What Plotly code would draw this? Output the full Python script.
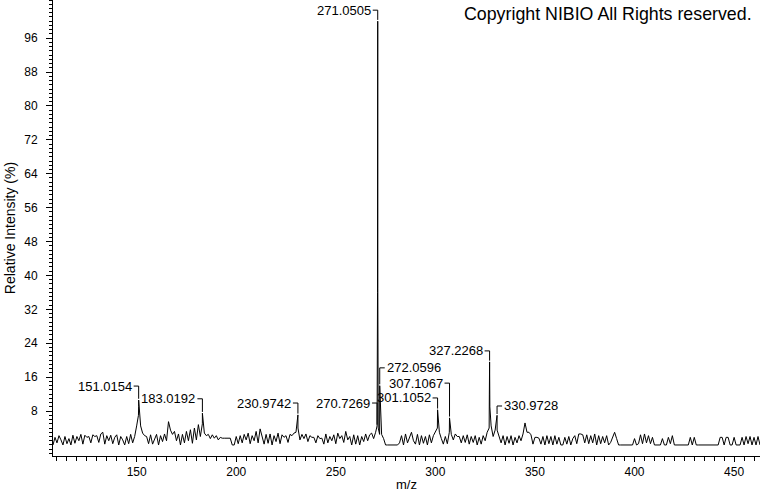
import plotly.graph_objects as go

# ---------------- data ----------------
# baseline noise, one value per integer m/z from 108 to 463 (relative %)
NOISE_START = 108
NOISE = [
    0, 1.8, 0.5, 2.2, 1.2, 0, 2.0, 0.3, 1.5, 0,            # 108-117
    2.3, 0.4, 2.0, 1.0, 2.5, 0.2, 2.3, 1.8, 2.0, 0.5,      # 118-127
    2.4, 2.0, 2.2, 0.6, 2.6, 3.0, 0.2, 2.2, 1.0, 2.3,      # 128-137
    0.3, 1.8, 2.4, 0, 2.0, 1.2, 0, 2.0, 0.3, 2.5,          # 138-147
    0.5, 2.0, 4.5, 9.0, 4.5, 2.8, 2.2, 2.0, 0.3, 2.4,      # 148-157
    0.2, 1.5, 2.5, 0, 2.2, 0.8, 2.6, 1.0, 5.5, 3.5,        # 158-167
    2.5, 3.2, 1.0, 2.6, 0, 2.5, 0.5, 3.2, 1.0, 3.6,        # 168-177
    0.4, 4.0, 1.2, 4.8, 2.0, 5.0, 2.8, 2.2, 2.5, 1.5,      # 178-187
    2.4, 1.6, 2.2, 1.2, 1.8, 1.6, 1.6, 1.6, 1.6, 1.6,      # 188-197
    0, 0, 2.0, 0.3, 2.2, 0.5, 2.5, 1.2, 2.8, 0.3,          # 198-207
    2.2, 1.0, 3.2, 0.5, 3.8, 2.0, 0.2, 2.5, 0.4, 2.6,      # 208-217
    0, 2.2, 0.8, 2.8, 0.3, 2.4, 1.8, 2.2, 0.6, 2.5,        # 218-227
    2.2, 2.8, 3.0, 4.0, 1.2, 2.5, 1.5, 2.6, 0.8, 2.2,      # 228-237
    1.8, 1.8, 0.5, 2.2, 1.5, 1.6, 0.2, 2.6, 0.5, 2.0,      # 238-247
    1.0, 2.4, 0.3, 2.8, 1.5, 2.2, 0.6, 3.2, 1.2, 2.0,      # 248-257
    0, 2.4, 0.2, 2.2, 0, 2.0, 0.8, 2.6, 1.0, 2.4,          # 258-267
    2.8, 1.5, 3.0, 3.0, 2.5, 2.5, 1.5, 0, 0, 0,            # 268-277
    0, 0, 0, 0, 0.5, 2.2, 0, 2.6, 0.5, 2.0,                # 278-287
    3.0, 1.0, 0.2, 2.5, 0, 2.2, 0.4, 2.0, 0, 2.4,          # 288-297
    0.5, 2.2, 3.0, 4.0, 3.0, 1.5, 0.2, 2.0, 0.3, 3.0,      # 298-307
    2.5, 1.2, 2.6, 2.0, 2.0, 0.5, 2.2, 0.6, 2.4, 0.2,      # 308-317
    2.0, 0.6, 2.2, 0, 1.8, 0.2, 2.2, 1.0, 3.0, 4.0,        # 318-327
    4.5, 2.0, 3.5, 3.5, 2.0, 0.5, 2.2, 0, 2.0, 0.4,        # 328-337
    2.2, 0, 1.8, 0.5, 2.2, 1.0, 2.6, 5.2, 3.0, 3.0,        # 338-347
    2.4, 0.2, 1.8, 1.8, 1.6, 0.2, 2.0, 0, 2.2, 0.3,        # 348-357
    2.0, 0, 2.2, 0.2, 1.8, 0, 0, 1.8, 0.2, 2.0,            # 358-367
    0, 1.5, 2.2, 0.3, 2.6, 2.6, 2.4, 0.5, 2.4, 0.3,        # 368-377
    2.2, 0.5, 2.6, 0, 2.2, 0.3, 2.0, 0.5, 2.2, 0,          # 378-387
    0.6, 2.0, 3.0, 1.5, 0, 0, 0, 0, 0, 0,                  # 388-397
    0, 0, 1.5, 0, 0.3, 2.4, 0.3, 2.6, 0.5, 2.2,            # 398-407
    0.3, 1.8, 0, 0, 0, 0, 1.5, 0, 0, 1.8,                  # 408-417
    0.3, 2.2, 0, 0, 0, 0, 0, 0, 0, 0,                      # 418-427
    1.8, 0, 1.8, 0, 0, 0, 0, 0, 0, 0,                      # 428-437
    0, 0, 0, 0, 0, 1.8, 1.8, 0, 1.8, 1.8,                  # 438-447
    0, 0, 1.8, 0, 0, 0, 1.8, 0, 2.0, 0.3,                  # 448-457
    2.0, 0, 1.8, 0, 2.0, 0,                                # 458-463
]

# profile points of the main peaks (m/z, relative %)
PROFILE_MZ = [150.9, 151.0154, 183.0192, 230.9742, 270.7269, 270.95, 271.0,
              271.0505, 271.1, 271.3, 272.0596, 301.1052, 307.1067,
              327.1, 327.2268, 327.35, 330.9728]
PROFILE_INT = [7.0, 10.6, 7.5, 7.1, 4.5, 36.0, 79.0,
               100.0, 37.0, 4.0, 14.0, 8.3, 6.4,
               12.0, 19.6, 9.0, 7.0]

# labelled peaks
LABEL_MZ = [151.0154, 183.0192, 230.9742, 270.7269, 271.0505, 272.0596,
            301.1052, 307.1067, 327.2268, 330.9728]
LABEL_INT = [10.6, 7.5, 7.1, 4.5, 100.0, 14.0, 8.3, 6.4, 19.6, 7.0]
LABEL_TEXT = ["151.0154", "183.0192", "230.9742", "270.7269", "271.0505",
              "272.0596", "301.1052", "307.1067", "327.2268", "330.9728"]

Y_TICKS = [8, 16, 24, 32, 40, 48, 56, 64, 72, 80, 88, 96]
X_TICKS = [150, 200, 250, 300, 350, 400, 450]

# ---------------- layout of the labels (placement only) ----------------
LABEL_Y = [13.9, 10.9, 9.9, 9.9, 102.6, 18.2, 11.1, 14.6, 22.2, 9.2]
LABEL_SIDE = ["L", "L", "L", "L", "L", "R", "L", "L", "L", "R"]

# merge noise + profile
pts = {}
for i, v in enumerate(NOISE):
    pts[float(NOISE_START + i)] = v
for m, v in zip(PROFILE_MZ, PROFILE_INT):
    pts[m] = v
xs = sorted(pts)
ys = [pts[x] for x in xs]

FONT = "Liberation Sans, Arial, sans-serif"

fig = go.Figure()
fig.add_trace(go.Scatter(x=xs, y=ys, mode="lines",
                         line=dict(color="black", width=1), hoverinfo="skip"))

PX_PER_UNIT = 1.99
for mz, inten, txt, ly, side in zip(LABEL_MZ, LABEL_INT, LABEL_TEXT, LABEL_Y, LABEL_SIDE):
    d = 5 / PX_PER_UNIT
    hx = mz - d if side == "L" else mz + d
    fig.add_shape(type="path",
                  path=f"M {hx} {ly} L {mz} {ly} L {mz} {inten + 0.3}",
                  xref="x", yref="y", line=dict(color="black", width=1))
    fig.add_annotation(x=mz, y=ly, xref="x", yref="y", text=txt, showarrow=False,
                       xanchor="right" if side == "L" else "left", yanchor="middle",
                       xshift=-5 if side == "L" else 5,
                       font=dict(family=FONT, size=13, color="black"))

fig.add_annotation(x=1, y=1, xref="paper", yref="paper",
                   text="Copyright NIBIO All Rights reserved.", showarrow=False,
                   xanchor="right", yanchor="top", xshift=-6, yshift=-2,
                   font=dict(family=FONT, size=17.8, color="black"))

fig.update_layout(
    width=760, height=492,
    margin=dict(l=53, r=0, t=0, b=36, autoexpand=False),
    plot_bgcolor="white", paper_bgcolor="white",
    showlegend=False,
    font=dict(family=FONT, size=12, color="black"),
)
fig.update_xaxes(
    range=[108, 463], showgrid=False, zeroline=False, automargin=False,
    showline=True, linecolor="black", linewidth=1,
    tickmode="array", tickvals=X_TICKS, ticks="outside", ticklen=5,
    tickcolor="black", tickfont=dict(family=FONT, size=12, color="black"),
    minor=dict(tickmode="linear", tick0=0, dtick=5, ticklen=4, ticks="outside",
               tickcolor="black", showgrid=False),
    title=dict(text="m/z", font=dict(family=FONT, size=13, color="black"), standoff=2),
)
fig.update_yaxes(
    range=[-2.6, 105], showgrid=False, zeroline=False, automargin=False,
    showline=True, linecolor="black", linewidth=1,
    tickmode="array", tickvals=Y_TICKS, ticks="outside", ticklen=6,
    tickcolor="black", tickfont=dict(family=FONT, size=12, color="black"),
    ticklabelstandoff=6,
    minor=dict(tickmode="linear", tick0=0, dtick=1, ticklen=3, ticks="outside",
               tickcolor="black", showgrid=False),
    title=dict(text="Relative Intensity (%)", font=dict(family=FONT, size=14, color="black"),
               standoff=5),
)

fig.write_html("out.html", config={"displayModeBar": False},
               post_script="document.body.style.margin='0';")
